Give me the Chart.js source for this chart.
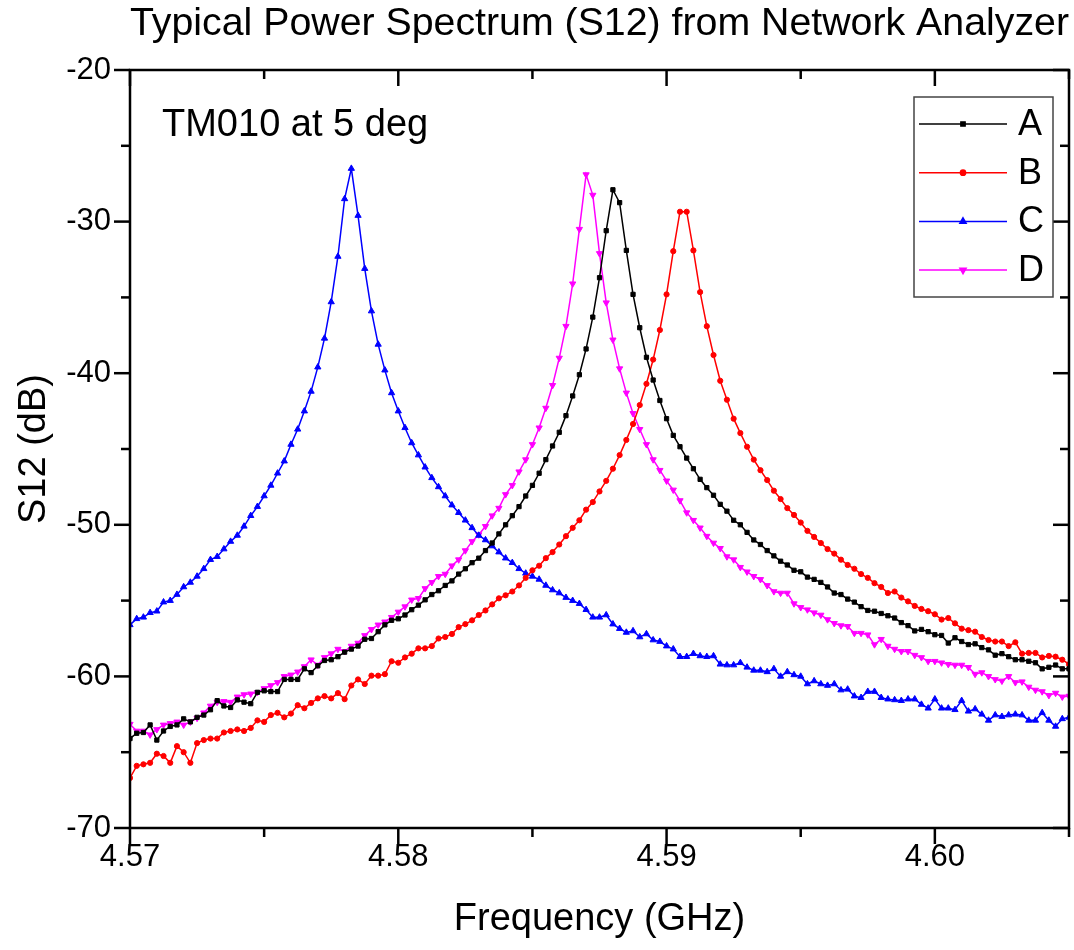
<!DOCTYPE html>
<html>
<head>
<meta charset="utf-8">
<script src="https://cdn.jsdelivr.net/npm/chart.js@4.4.0/dist/chart.umd.min.js"></script>
<style>
  html, body { margin: 0; padding: 0; background: #fff; }
</style>
</head>
<body>
<canvas id="spectrum" width="1074" height="950"></canvas>
<script>
// frequency points of the analyzer sweep (GHz)
const freq = [
  4.57, 4.57025, 4.5705, 4.57075, 4.571, 4.57125, 4.5715, 4.57175,
  4.572, 4.57225, 4.5725, 4.57275, 4.573, 4.57325, 4.5735, 4.57375,
  4.574, 4.57425, 4.5745, 4.57475, 4.575, 4.57525, 4.5755, 4.57575,
  4.576, 4.57625, 4.5765, 4.57675, 4.577, 4.57725, 4.5775, 4.57775,
  4.578, 4.57825, 4.5785, 4.57875, 4.579, 4.57925, 4.5795, 4.57975,
  4.58, 4.58025, 4.5805, 4.58075, 4.581, 4.58125, 4.5815, 4.58175,
  4.582, 4.58225, 4.5825, 4.58275, 4.583, 4.58325, 4.5835, 4.58375,
  4.584, 4.58425, 4.5845, 4.58475, 4.585, 4.58525, 4.5855, 4.58575,
  4.586, 4.58625, 4.5865, 4.58675, 4.587, 4.58725, 4.5875, 4.58775,
  4.588, 4.58825, 4.5885, 4.58875, 4.589, 4.58925, 4.5895, 4.58975,
  4.59, 4.59025, 4.5905, 4.59075, 4.591, 4.59125, 4.5915, 4.59175,
  4.592, 4.59225, 4.5925, 4.59275, 4.593, 4.59325, 4.5935, 4.59375,
  4.594, 4.59425, 4.5945, 4.59475, 4.595, 4.59525, 4.5955, 4.59575,
  4.596, 4.59625, 4.5965, 4.59675, 4.597, 4.59725, 4.5975, 4.59775,
  4.598, 4.59825, 4.5985, 4.59875, 4.599, 4.59925, 4.5995, 4.59975,
  4.6, 4.60025, 4.6005, 4.60075, 4.601, 4.60125, 4.6015, 4.60175,
  4.602, 4.60225, 4.6025, 4.60275, 4.603, 4.60325, 4.6035, 4.60375,
  4.604, 4.60425, 4.6045, 4.60475, 4.605
];

// S12 in dB, one value per frequency point
const seriesA = [
  -64.1, -63.75, -63.7, -63.2, -64.2, -63.6, -63.3, -63.2, -62.8, -63.0,
  -62.7, -62.55, -62.2, -61.6, -61.95, -62.05, -61.55, -61.7, -61.8, -61.05,
  -60.95, -61.0, -61.0, -60.2, -60.2, -60.2, -59.5, -59.75, -59.3, -58.95,
  -58.9, -58.7, -58.4, -58.2, -58.0, -57.55, -57.5, -57.05, -56.6, -56.3,
  -56.2, -55.95, -55.6, -55.3, -54.95, -54.6, -54.35, -54.0, -53.7, -53.25,
  -52.9, -52.5, -52.2, -51.7, -51.2, -50.6, -50.0, -49.4, -48.8, -48.1,
  -47.4, -46.6, -45.7, -44.8, -43.9, -42.8, -41.5, -40.1, -38.4, -36.3,
  -33.7, -30.6, -27.9, -28.75, -31.9, -34.8, -37.0, -38.95, -40.45, -41.8,
  -43.0, -44.1, -44.85, -45.6, -46.3, -47.0, -47.55, -48.05, -48.65, -49.1,
  -49.7, -50.0, -50.5, -51.0, -51.3, -51.7, -52.05, -52.4, -52.65, -53.0,
  -53.1, -53.45, -53.6, -53.8, -54.1, -54.5, -54.6, -54.9, -55.1, -55.4,
  -55.65, -55.7, -55.85, -56.0, -56.15, -56.45, -56.65, -57.0, -56.9, -57.05,
  -57.25, -57.3, -57.8, -57.45, -57.7, -57.9, -57.85, -58.1, -58.25, -58.6,
  -58.5, -58.7, -58.9, -58.9, -59.0, -59.1, -59.5, -59.4, -59.25, -59.5,
  -59.5
];
const seriesB = [
  -66.7, -65.9, -65.8, -65.7, -65.1, -65.25, -65.7, -64.6, -65.0, -65.7,
  -64.4, -64.2, -64.1, -64.1, -63.7, -63.6, -63.5, -63.6, -63.4, -62.9,
  -63.0, -62.55, -62.4, -62.7, -62.45, -61.9, -62.1, -61.75, -61.45, -61.3,
  -61.45, -61.1, -61.5, -60.6, -60.2, -60.5, -59.95, -59.95, -59.85, -59.0,
  -59.1, -58.75, -58.5, -58.15, -58.15, -58.0, -57.5, -57.4, -57.2, -56.75,
  -56.55, -56.3, -55.95, -55.65, -55.25, -54.85, -54.65, -54.4, -54.0, -53.5,
  -53.0, -52.7, -52.2, -51.8, -51.3, -50.75, -50.2, -49.7, -49.0, -48.5,
  -47.8, -47.1, -46.3, -45.4, -44.4, -43.35, -42.1, -40.7, -39.1, -37.15,
  -34.8, -31.95, -29.35, -29.35, -31.9, -34.65, -36.9, -38.8, -40.5, -41.75,
  -43.0, -43.95, -44.85, -45.7, -46.4, -47.05, -47.75, -48.3, -48.9, -49.35,
  -49.85, -50.4, -50.8, -51.2, -51.6, -51.9, -52.3, -52.65, -52.9, -53.25,
  -53.5, -53.85, -54.1, -54.5, -54.4, -54.8, -55.05, -55.35, -55.55, -55.7,
  -55.9, -56.25, -56.15, -56.5, -56.85, -56.95, -57.05, -57.4, -57.6, -57.7,
  -57.7, -58.0, -57.75, -58.5, -58.45, -58.45, -58.75, -58.65, -58.7, -58.9,
  -59.2
];
const seriesC = [
  -56.6, -56.2, -56.1, -55.8, -55.7, -55.1, -55.0, -54.6, -54.1, -53.8,
  -53.4, -52.9, -52.3, -52.1, -51.6, -51.1, -50.7, -50.1, -49.4, -48.8,
  -48.1, -47.4, -46.6, -45.8, -44.7, -43.7, -42.5, -41.2, -39.6, -37.7,
  -35.3, -32.3, -28.5, -26.5, -29.6, -33.1, -35.9, -38.1, -39.8, -41.3,
  -42.5, -43.6, -44.6, -45.4, -46.2, -46.9, -47.5, -48.1, -48.7, -49.2,
  -49.7, -50.2, -50.7, -51.0, -51.4, -51.8, -52.2, -52.5, -52.9, -53.2,
  -53.4, -53.6, -54.0, -54.3, -54.5, -54.8, -55.0, -55.2, -55.6, -56.1,
  -56.1, -55.95, -56.55, -56.85, -57.1, -57.0, -57.4, -57.2, -57.6, -57.7,
  -58.0, -58.2, -58.7, -58.7, -58.5, -58.65, -58.7, -58.65, -59.2, -59.25,
  -59.25, -59.1, -59.4, -59.6, -59.6, -59.7, -59.5, -60.0, -59.7, -59.9,
  -60.0, -60.5, -60.3, -60.5, -60.6, -60.5, -60.9, -60.85, -61.3, -61.4,
  -61.0, -61.0, -61.4, -61.5, -61.55, -61.6, -61.5, -61.5, -61.85, -62.1,
  -61.5, -62.1, -62.1, -62.2, -61.6, -62.3, -62.15, -62.5, -62.9, -62.55,
  -62.65, -62.55, -62.5, -62.55, -62.9, -62.9, -62.4, -62.9, -63.3, -62.8,
  -62.7
];
const seriesD = [
  -63.15, -63.6, -63.6, -63.85, -63.5, -63.2, -63.1, -63.0, -63.2, -63.0,
  -62.75, -62.4, -61.95, -61.7, -61.65, -61.7, -61.35, -61.2, -61.15, -61.05,
  -60.8, -60.6, -60.4, -60.0, -59.9, -59.7, -59.35, -58.9, -59.25, -58.75,
  -58.5, -58.2, -58.35, -58.0, -57.8, -57.3, -56.9, -56.6, -56.4, -56.1,
  -55.75, -55.4, -54.95, -54.85, -54.2, -53.8, -53.4, -53.25, -52.7, -52.3,
  -51.7, -51.1, -50.65, -50.1, -49.4, -48.9, -48.0, -47.4, -46.5, -45.7,
  -44.7, -43.6, -42.3, -40.8, -39.0, -36.9, -34.1, -30.5, -26.9, -28.25,
  -32.1, -35.35, -37.8, -39.7, -41.3, -42.65, -43.7, -44.7, -45.7, -46.4,
  -47.1, -47.7, -48.4, -49.2, -49.7, -50.2, -50.75, -51.2, -51.55, -52.1,
  -52.3, -52.8, -53.1, -53.4, -53.6, -54.0, -54.4, -54.5, -54.5, -55.2,
  -55.45, -55.6, -55.8, -55.95, -56.25, -56.5, -56.65, -56.7, -57.15, -57.15,
  -57.25, -57.9, -57.55, -58.0, -58.2, -58.35, -58.35, -58.6, -58.75, -59.0,
  -59.0, -59.1, -59.2, -59.25, -59.25, -59.4, -59.85, -59.75, -60.0, -60.2,
  -60.3, -60.0, -60.4, -60.35, -60.7, -60.9, -61.0, -61.25, -61.1, -61.35,
  -61.3
];

const seriesNames = ['A', 'B', 'C', 'D'];

// axis ticks
const xMajorTicks = [4.57, 4.58, 4.59, 4.60];
const xMinorTicks = [4.575, 4.585, 4.595, 4.605];
const yMajorTicks = [-70, -60, -50, -40, -30, -20];
const yMinorTicks = [-65, -55, -45, -35, -25];

const FONT = "'Liberation Sans', Arial, sans-serif";

function toPoints(values) {
  return values.map((v, i) => ({ x: freq[i], y: v }));
}

function makeSet(label, values, color, style, rotation, radius) {
  return {
    label: label,
    data: toPoints(values),
    borderColor: color,
    backgroundColor: color,
    borderWidth: 1.5,
    pointStyle: style,
    pointRotation: rotation,
    pointRadius: radius,
    pointBorderWidth: 1,
    pointBackgroundColor: color,
    pointBorderColor: color,
    tension: 0
  };
}

// ticks, frame, legend box and the text label inside the plot
const decorations = {
  id: 'decorations',
  afterDraw(chart) {
    const ctx = chart.ctx;
    const xs = chart.scales.x, ys = chart.scales.y;
    const { left, right, top, bottom } = chart.chartArea;

    ctx.save();
    ctx.strokeStyle = '#000';
    ctx.lineWidth = 2.5;
    ctx.lineCap = 'butt';

    function seg(x1, y1, x2, y2) {
      ctx.beginPath();
      ctx.moveTo(x1, y1);
      ctx.lineTo(x2, y2);
      ctx.stroke();
    }

    // bottom ticks out, top ticks in
    xMajorTicks.forEach(v => {
      const px = xs.getPixelForValue(v);
      seg(px, bottom, px, bottom + 16);
      seg(px, top, px, top + 16);
    });
    xMinorTicks.forEach(v => {
      const px = xs.getPixelForValue(v);
      seg(px, bottom, px, bottom + 9);
      seg(px, top, px, top + 9);
    });
    // left ticks out, right ticks in
    yMajorTicks.forEach(v => {
      const py = ys.getPixelForValue(v);
      seg(left - 16, py, left, py);
      seg(right, py, right - 16, py);
    });
    yMinorTicks.forEach(v => {
      const py = ys.getPixelForValue(v);
      seg(left - 9, py, left, py);
      seg(right, py, right - 9, py);
    });

    ctx.strokeRect(left, top, right - left, bottom - top);

    // annotation
    ctx.fillStyle = '#000';
    ctx.font = '38px ' + FONT;
    ctx.textAlign = 'left';
    ctx.textBaseline = 'alphabetic';
    ctx.fillText('TM010 at 5 deg', 162, 136);

    // legend
    const bx = 914, by = 97, bw = 139, bh = 200;
    ctx.fillStyle = '#fff';
    ctx.fillRect(bx, by, bw, bh);
    ctx.strokeStyle = '#444';
    ctx.lineWidth = 1.5;
    ctx.strokeRect(bx, by, bw, bh);

    ctx.font = '36px ' + FONT;
    ctx.textBaseline = 'middle';
    chart.data.datasets.forEach((ds, i) => {
      const ry = 124 + i * 48.7;
      ctx.strokeStyle = ds.borderColor;
      ctx.fillStyle = ds.borderColor;
      ctx.lineWidth = 1.5;
      seg(919, ry, 1007, ry);
      Chart.helpers.drawPoint(ctx, {
        pointStyle: ds.pointStyle,
        rotation: ds.pointRotation,
        radius: ds.pointRadius,
        borderWidth: 1
      }, 963, ry);
      ctx.fillStyle = '#000';
      ctx.fillText(ds.label, 1018, ry + 1);
    });
    ctx.restore();
  }
};

const ctx = document.getElementById('spectrum').getContext('2d');
new Chart(ctx, {
  type: 'line',
  data: {
    datasets: [
      makeSet(seriesNames[0], seriesA, '#000000', 'rect', 0, 3),
      makeSet(seriesNames[1], seriesB, '#ff0000', 'circle', 0, 2.6),
      makeSet(seriesNames[2], seriesC, '#0000ff', 'triangle', 0, 3.6),
      makeSet(seriesNames[3], seriesD, '#ff00ff', 'triangle', 180, 3.6)
    ]
  },
  options: {
    responsive: false,
    animation: false,
    layout: { padding: { left: 0, right: 3, top: 0, bottom: 0 } },
    plugins: {
      legend: { display: false },
      tooltip: { enabled: false },
      title: {
        display: true,
        fullSize: false,
        text: 'Typical Power Spectrum (S12) from Network Analyzer',
        color: '#000',
        font: { family: FONT, size: 39.5, weight: 'normal' },
        padding: { top: 0, bottom: 22.6 }
      }
    },
    scales: {
      x: {
        type: 'linear',
        min: 4.57,
        max: 4.605,
        afterFit(scale) { scale.height = 122; },
        grid: { display: false, drawTicks: false },
        border: { display: false },
        ticks: {
          stepSize: 0.01,
          includeBounds: false,
          padding: 11,
          color: '#000',
          font: { family: FONT, size: 31 },
          callback: v => v.toFixed(2)
        },
        title: {
          display: true,
          text: 'Frequency (GHz)',
          color: '#000',
          font: { family: FONT, size: 38 },
          padding: { top: 0, bottom: 8 }
        }
      },
      y: {
        type: 'linear',
        min: -70,
        max: -20,
        afterFit(scale) { scale.width = 130; },
        grid: { display: false, drawTicks: false },
        border: { display: false },
        ticks: {
          stepSize: 10,
          padding: 19,
          color: '#000',
          font: { family: FONT, size: 31 }
        },
        title: {
          display: true,
          text: 'S12 (dB)',
          color: '#000',
          font: { family: FONT, size: 38 },
          padding: { top: 12, bottom: 0 }
        }
      }
    }
  },
  plugins: [decorations]
});
</script>
</body>
</html>
